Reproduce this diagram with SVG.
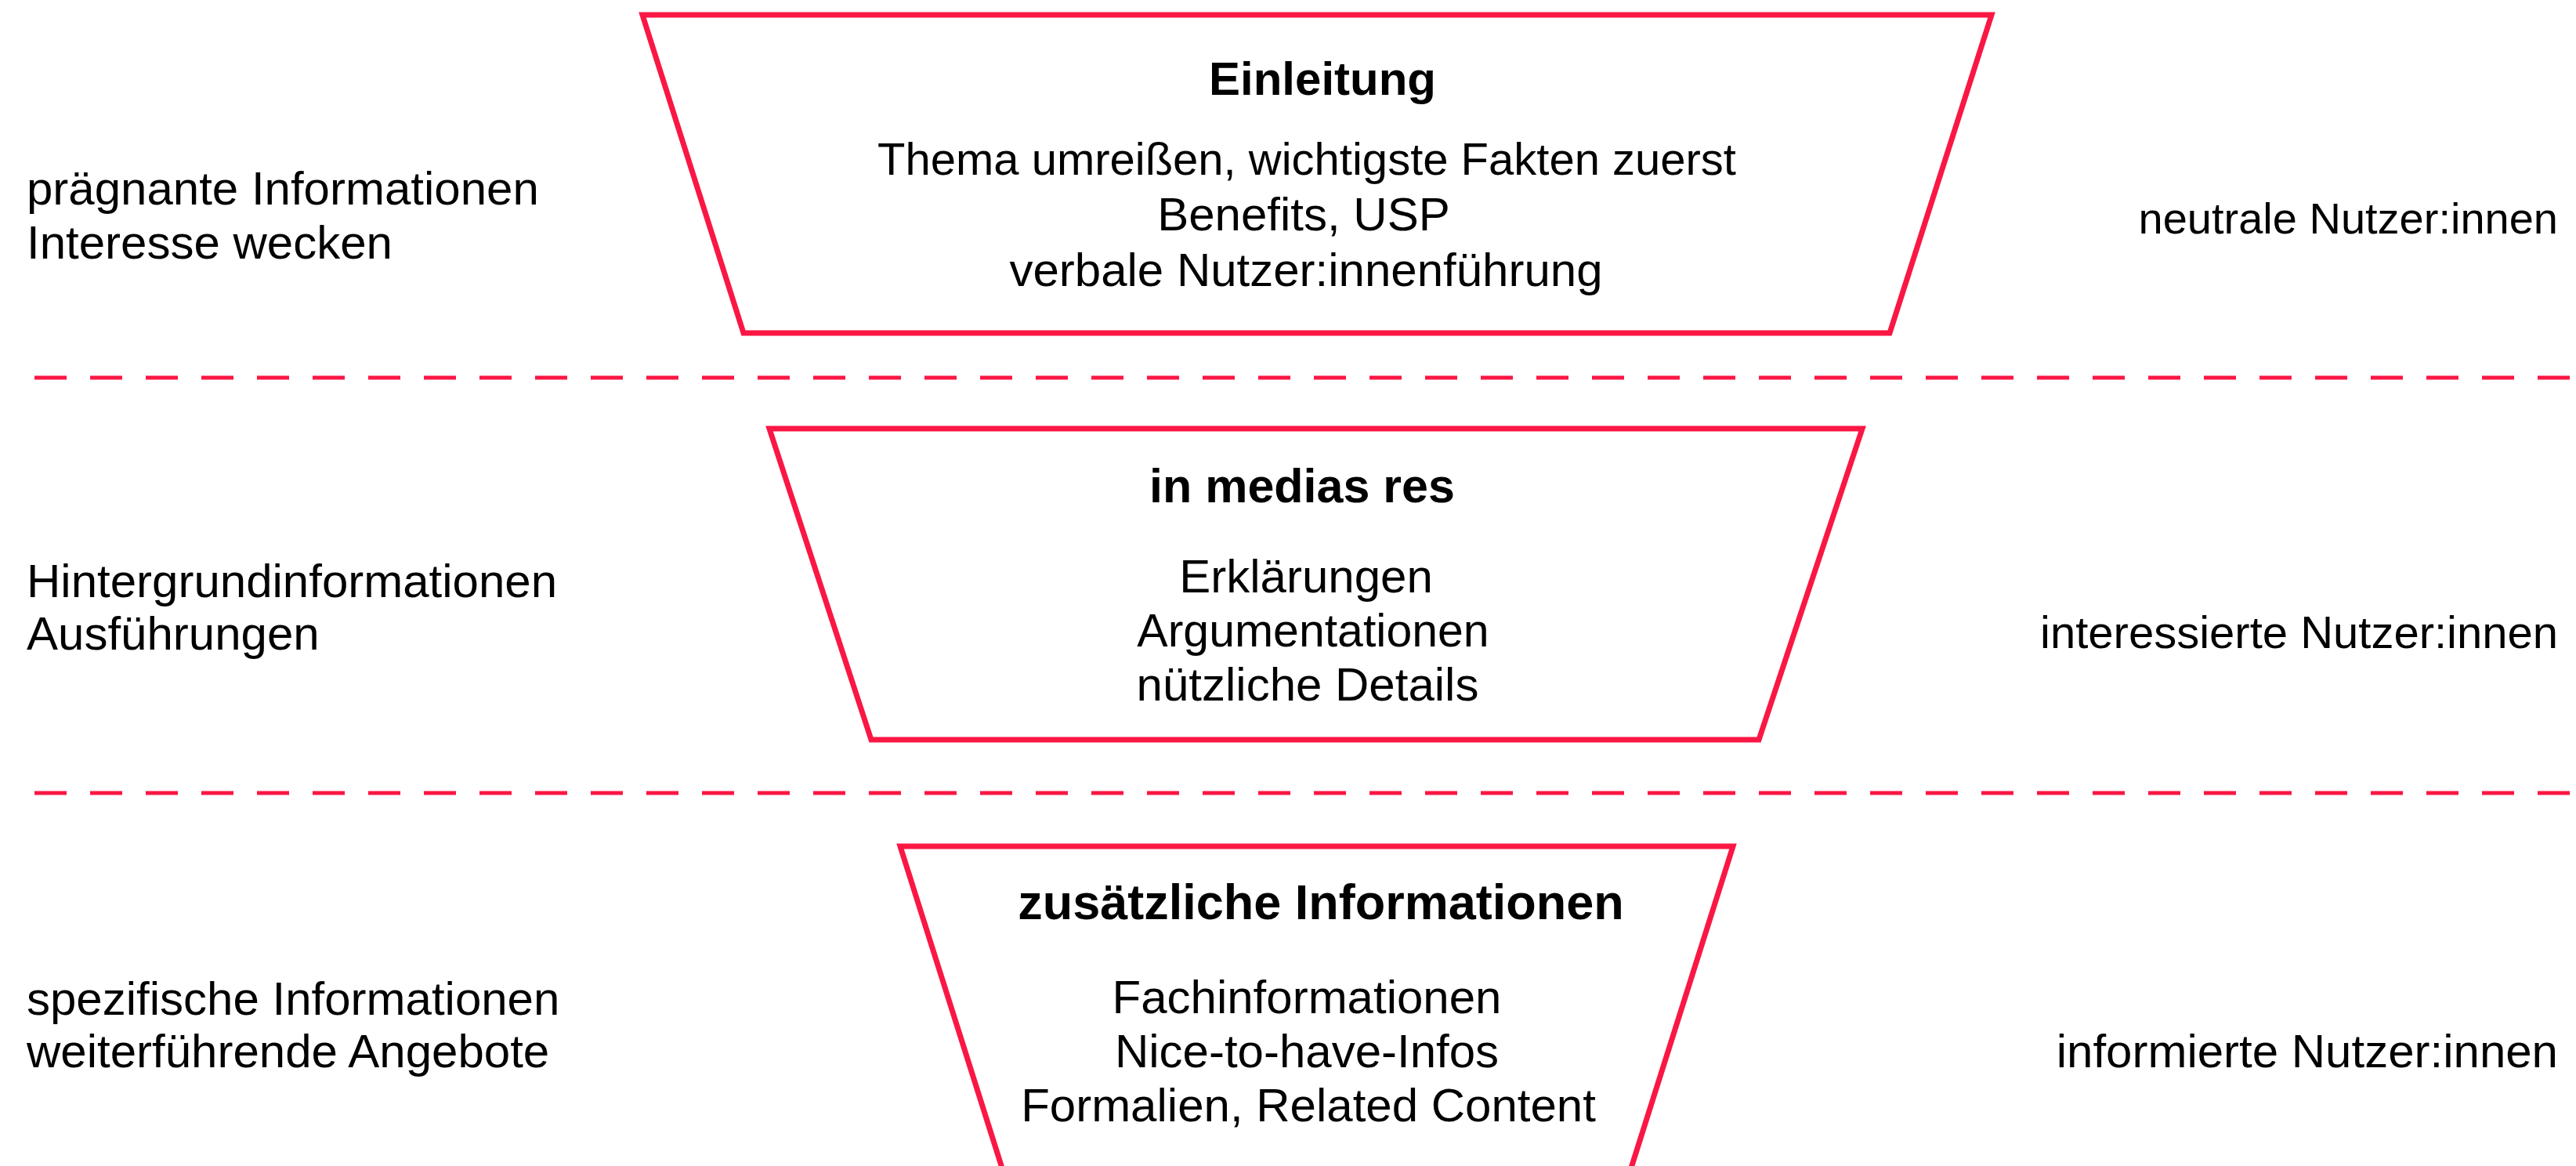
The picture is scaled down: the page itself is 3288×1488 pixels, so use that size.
<svg xmlns="http://www.w3.org/2000/svg" width="3288" height="1488" viewBox="0 0 3288 1488">
<style>
.shape{fill:#fff;stroke:#FA1744;stroke-width:7;stroke-linejoin:miter}
.sep{stroke:#FA1744;stroke-width:5;stroke-dasharray:41 30;fill:none}
text{font-family:"Liberation Sans",Arial,Helvetica,sans-serif;font-size:60px;fill:#000}
.t{font-weight:bold;text-anchor:middle;font-size:61px}
.c{text-anchor:middle}
.r{text-anchor:end}
</style>
<rect width="3288" height="1488" fill="#fff"/>
<g id="connectors">
<line class="sep" x1="44" y1="482" x2="3288" y2="482"/>
<line class="sep" x1="44" y1="1012" x2="3288" y2="1012"/>
</g>
<g id="einleitung">
<polygon class="shape" points="820,19 2542,19 2412,425 949,425"/>
<text class="t" x="1688" y="121" style="font-size:60px">Einleitung</text>
<text class="c" x="1668" y="223" style="font-size:58px">Thema umreißen, wichtigste Fakten zuerst</text>
<text class="c" x="1664" y="294">Benefits, USP</text>
<text class="c" x="1667" y="365">verbale Nutzer:innenführung</text>
</g>
<g id="medias">
<polygon class="shape" points="982,547 2377,547 2245,944 1112,944"/>
<text class="t" x="1662" y="641">in medias res</text>
<text class="c" x="1667" y="756">Erklärungen</text>
<text class="c" x="1676" y="825" style="font-size:59px">Argumentationen</text>
<text class="c" x="1669" y="894">nützliche Details</text>
</g>
<g id="zusaetzlich">
<polygon class="shape" points="1149,1080 2212,1080 2079,1500 1282,1500"/>
<text class="t" x="1686" y="1173" style="font-size:63px">zusätzliche Informationen</text>
<text class="c" x="1668" y="1293">Fachinformationen</text>
<text class="c" x="1668" y="1362">Nice-to-have-Infos</text>
<text class="c" x="1670" y="1431">Formalien, Related Content</text>
</g>
<g id="left-labels">
<text x="34" y="261">prägnante Informationen</text>
<text x="34" y="330">Interesse wecken</text>
<text x="34" y="762">Hintergrundinformationen</text>
<text x="34" y="829">Ausführungen</text>
<text x="34" y="1295">spezifische Informationen</text>
<text x="34" y="1362">weiterführende Angebote</text>
</g>
<g id="right-labels">
<text class="r" x="3265" y="298" style="font-size:56px">neutrale Nutzer:innen</text>
<text class="r" x="3265" y="827" style="font-size:58px">interessierte Nutzer:innen</text>
<text class="r" x="3265" y="1362">informierte Nutzer:innen</text>
</g>
</svg>
